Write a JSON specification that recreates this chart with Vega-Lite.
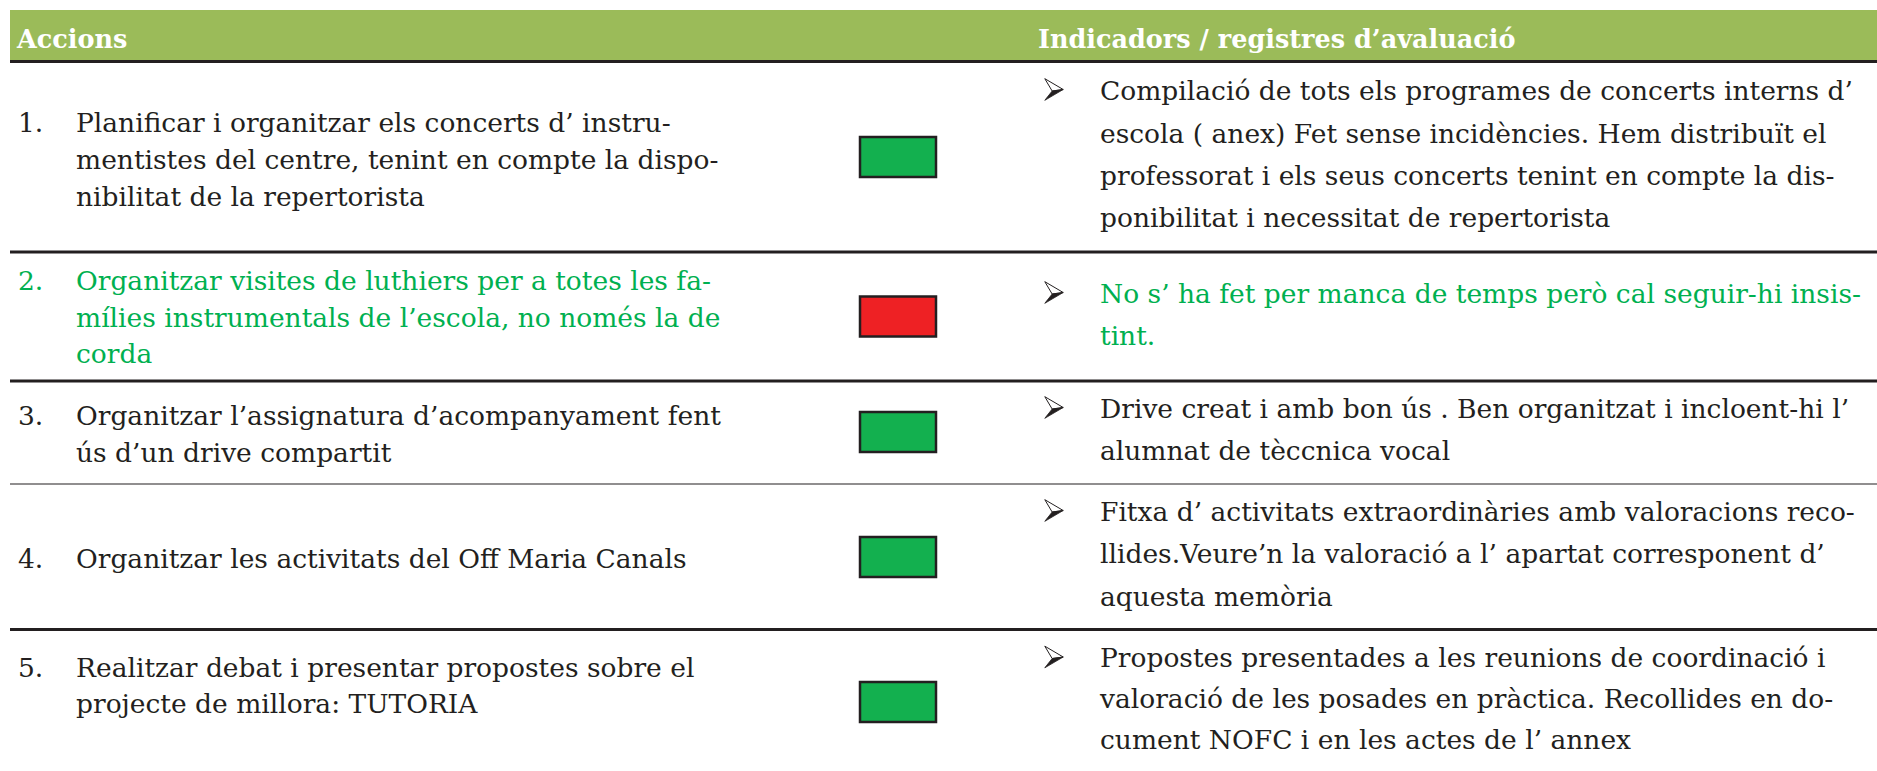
{
  "$schema": "https://vega.github.io/schema/vega-lite/v6.json",
  "width": 1877,
  "height": 771,
  "padding": 0,
  "autosize": {"type": "none"},
  "background": "white",
  "config": {"view": {"stroke": null}, "text": {"font": "DejaVu Serif"}},
  "datasets": {
    "files": [
      {"fila": 1, "numero": "1.", "estat": "assolit"},
      {"fila": 2, "numero": "2.", "estat": "no assolit"},
      {"fila": 3, "numero": "3.", "estat": "assolit"},
      {"fila": 4, "numero": "4.", "estat": "assolit"},
      {"fila": 5, "numero": "5.", "estat": "assolit"}
    ],
    "capcalera": [
      {"columna": "Accions"},
      {"columna": "Indicadors / registres d’avaluació"}
    ],
    "vores": [
      {"vora": 0, "tipus": "gruixut"},
      {"vora": 1, "tipus": "gruixut"},
      {"vora": 2, "tipus": "gruixut"},
      {"vora": 3, "tipus": "prim"},
      {"vora": 4, "tipus": "gruixut"}
    ],
    "accions": [
      {"fila": 1, "linia": 1, "text": "Planificar i organitzar els concerts d’ instru-"},
      {"fila": 1, "linia": 2, "text": "mentistes del centre, tenint en compte la dispo-"},
      {"fila": 1, "linia": 3, "text": "nibilitat de la repertorista"},
      {"fila": 2, "linia": 4, "text": "Organitzar visites de luthiers per a totes les fa-"},
      {"fila": 2, "linia": 5, "text": "mílies instrumentals de l’escola, no només la de"},
      {"fila": 2, "linia": 6, "text": "corda"},
      {"fila": 3, "linia": 7, "text": "Organitzar l’assignatura d’acompanyament fent"},
      {"fila": 3, "linia": 8, "text": "ús d’un drive compartit"},
      {"fila": 4, "linia": 9, "text": "Organitzar les activitats del Off Maria Canals"},
      {"fila": 5, "linia": 10, "text": "Realitzar debat i presentar propostes sobre el"},
      {"fila": 5, "linia": 11, "text": "projecte de millora: TUTORIA"}
    ],
    "indicadors": [
      {"fila": 1, "linia": 1, "text": "Compilació de tots els programes de concerts interns d’"},
      {"fila": 1, "linia": 2, "text": "escola ( anex) Fet sense incidències. Hem distribuït el"},
      {"fila": 1, "linia": 3, "text": "professorat  i els seus concerts tenint en compte la dis-"},
      {"fila": 1, "linia": 4, "text": "ponibilitat i necessitat de repertorista"},
      {"fila": 2, "linia": 5, "text": "No s’ ha fet per manca de temps però cal seguir-hi insis-"},
      {"fila": 2, "linia": 6, "text": "tint."},
      {"fila": 3, "linia": 7, "text": "Drive creat i amb bon ús . Ben organitzat i incloent-hi l’"},
      {"fila": 3, "linia": 8, "text": "alumnat de tèccnica vocal"},
      {"fila": 4, "linia": 9, "text": "Fitxa d’ activitats extraordinàries amb valoracions reco-"},
      {"fila": 4, "linia": 10, "text": "llides.Veure’n la valoració a l’ apartat corresponent d’"},
      {"fila": 4, "linia": 11, "text": "aquesta memòria"},
      {"fila": 5, "linia": 12, "text": "Propostes presentades a les reunions de coordinació i"},
      {"fila": 5, "linia": 13, "text": "valoració de les posades en pràctica. Recollides en do-"},
      {"fila": 5, "linia": 14, "text": "cument NOFC i en les actes de l’ annex"}
    ]
  },
  "layer": [
    {
      "data": {"name": "capcalera"},
      "mark": {"type": "rect", "fill": "#9BBB59"},
      "encoding": {
        "x": {"datum": 0, "type": "quantitative", "axis": null, "scale": {"domain": [0, 1, 2, 3, 4, 5, 6, 7, 8], "range": [10, 18, 76, 860, 936, 1038, 1054, 1100, 1877], "zero": false, "nice": false}},
        "x2": {"datum": 8},
        "y": {"datum": 0, "type": "quantitative", "axis": null, "scale": {"domain": [0, 1], "range": [10, 61], "zero": false, "nice": false}},
        "y2": {"datum": 1}
      }
    },
    {
      "data": {"name": "capcalera"},
      "mark": {"type": "text", "align": "left", "baseline": "alphabetic", "font": "DejaVu Serif", "fontWeight": "bold", "fontSize": 25.5, "fill": "white"},
      "encoding": {
        "x": {"field": "columna", "type": "nominal", "axis": null, "scale": {"type": "point", "domain": ["Accions", "Indicadors / registres d’avaluació"], "range": [17, 1038], "padding": 0}},
        "y": {"datum": 0.74, "type": "quantitative", "axis": null, "scale": {"domain": [0, 1], "range": [10, 61], "zero": false, "nice": false}},
        "text": {"field": "columna"}
      }
    },
    {
      "data": {"name": "vores"},
      "mark": {"type": "rule", "stroke": "#231F20"},
      "encoding": {
        "x": {"datum": 0, "type": "quantitative", "axis": null, "scale": {"domain": [0, 1, 2, 3, 4, 5, 6, 7, 8], "range": [10, 18, 76, 860, 936, 1038, 1054, 1100, 1877], "zero": false, "nice": false}},
        "x2": {"datum": 8},
        "y": {"field": "vora", "type": "quantitative", "axis": null, "scale": {"domain": [0, 1, 2, 3, 4], "range": [61.5, 252, 381, 484, 629.5], "zero": false, "nice": false}},
        "strokeWidth": {"field": "tipus", "type": "nominal", "legend": null, "scale": {"domain": ["gruixut", "prim"], "range": [3, 1.2]}}
      }
    },
    {
      "data": {"name": "files"},
      "mark": {"type": "rect", "height": 40, "stroke": "#231F20", "strokeWidth": 2.5},
      "encoding": {
        "x": {"datum": 3, "type": "quantitative", "axis": null, "scale": {"domain": [0, 1, 2, 3, 4, 5, 6, 7, 8], "range": [10, 18, 76, 860, 936, 1038, 1054, 1100, 1877], "zero": false, "nice": false}},
        "x2": {"datum": 4},
        "y": {"field": "fila", "type": "quantitative", "axis": null, "scale": {"domain": [1, 2, 3, 4, 5], "range": [157, 316.5, 432, 557, 702], "zero": false, "nice": false}},
        "color": {"field": "estat", "type": "nominal", "legend": null, "scale": {"domain": ["assolit", "no assolit"], "range": ["#13B04F", "#EE2124"]}}
      }
    },
    {
      "data": {"name": "files"},
      "mark": {"type": "text", "align": "left", "baseline": "alphabetic", "font": "DejaVu Serif", "fontSize": 26.5},
      "encoding": {
        "x": {"datum": 1, "type": "quantitative", "axis": null, "scale": {"domain": [0, 1, 2, 3, 4, 5, 6, 7, 8], "range": [10, 18, 76, 860, 936, 1038, 1054, 1100, 1877], "zero": false, "nice": false}},
        "y": {"field": "fila", "type": "quantitative", "axis": null, "scale": {"domain": [1, 2, 3, 4, 5], "range": [132, 290, 425, 568, 677], "zero": false, "nice": false}},
        "text": {"field": "numero"},
        "color": {"field": "estat", "type": "nominal", "legend": null, "scale": {"domain": ["assolit", "no assolit"], "range": ["#231F20", "#00B050"]}}
      }
    },
    {
      "data": {"name": "accions"},
      "transform": [{"lookup": "fila", "from": {"data": {"name": "files"}, "key": "fila", "fields": ["estat"]}}],
      "mark": {"type": "text", "align": "left", "baseline": "alphabetic", "font": "DejaVu Serif", "fontSize": 26.5},
      "encoding": {
        "x": {"datum": 2, "type": "quantitative", "axis": null, "scale": {"domain": [0, 1, 2, 3, 4, 5, 6, 7, 8], "range": [10, 18, 76, 860, 936, 1038, 1054, 1100, 1877], "zero": false, "nice": false}},
        "y": {"field": "linia", "type": "quantitative", "axis": null, "scale": {"domain": [1, 2, 3, 4, 5, 6, 7, 8, 9, 10, 11], "range": [132, 169, 206, 290, 327, 363, 425, 462, 568, 677, 713], "zero": false, "nice": false}},
        "text": {"field": "text"},
        "color": {"field": "estat", "type": "nominal", "legend": null, "scale": {"domain": ["assolit", "no assolit"], "range": ["#231F20", "#00B050"]}}
      }
    },
    {
      "data": {"name": "indicadors"},
      "transform": [{"lookup": "fila", "from": {"data": {"name": "files"}, "key": "fila", "fields": ["estat"]}}],
      "mark": {"type": "text", "align": "left", "baseline": "alphabetic", "font": "DejaVu Serif", "fontSize": 26.5},
      "encoding": {
        "x": {"datum": 7, "type": "quantitative", "axis": null, "scale": {"domain": [0, 1, 2, 3, 4, 5, 6, 7, 8], "range": [10, 18, 76, 860, 936, 1038, 1054, 1100, 1877], "zero": false, "nice": false}},
        "y": {"field": "linia", "type": "quantitative", "axis": null, "scale": {"domain": [1, 2, 3, 4, 5, 6, 7, 8, 9, 10, 11, 12, 13, 14], "range": [100, 143, 185, 227, 303, 345, 418, 460, 521, 563, 606, 667, 708, 749], "zero": false, "nice": false}},
        "text": {"field": "text"},
        "color": {"field": "estat", "type": "nominal", "legend": null, "scale": {"domain": ["assolit", "no assolit"], "range": ["#231F20", "#00B050"]}}
      }
    },
    {
      "data": {"name": "files"},
      "mark": {"type": "point", "shape": "M-0.85,-1L0.85,0L-0.17,0.14Z", "filled": true, "fill": "white", "stroke": "#231F20", "strokeWidth": 1, "size": 470, "opacity": 1},
      "encoding": {
        "x": {"datum": 6, "type": "quantitative", "axis": null, "scale": {"domain": [0, 1, 2, 3, 4, 5, 6, 7, 8], "range": [10, 18, 76, 860, 936, 1038, 1054, 1100, 1877], "zero": false, "nice": false}},
        "y": {"field": "fila", "type": "quantitative", "axis": null, "scale": {"domain": [1, 2, 3, 4, 5], "range": [89.5, 292.5, 407.5, 510.5, 657], "zero": false, "nice": false}}
      }
    },
    {
      "data": {"name": "files"},
      "mark": {"type": "point", "shape": "M-0.17,0.14L0.85,0L-0.85,1Z", "filled": true, "fill": "#231F20", "stroke": "#231F20", "strokeWidth": 0.8, "size": 470, "opacity": 1},
      "encoding": {
        "x": {"datum": 6, "type": "quantitative", "axis": null, "scale": {"domain": [0, 1, 2, 3, 4, 5, 6, 7, 8], "range": [10, 18, 76, 860, 936, 1038, 1054, 1100, 1877], "zero": false, "nice": false}},
        "y": {"field": "fila", "type": "quantitative", "axis": null, "scale": {"domain": [1, 2, 3, 4, 5], "range": [89.5, 292.5, 407.5, 510.5, 657], "zero": false, "nice": false}}
      }
    }
  ],
  "resolve": {"scale": {"x": "independent", "y": "independent", "color": "independent", "strokeWidth": "independent"}}
}
